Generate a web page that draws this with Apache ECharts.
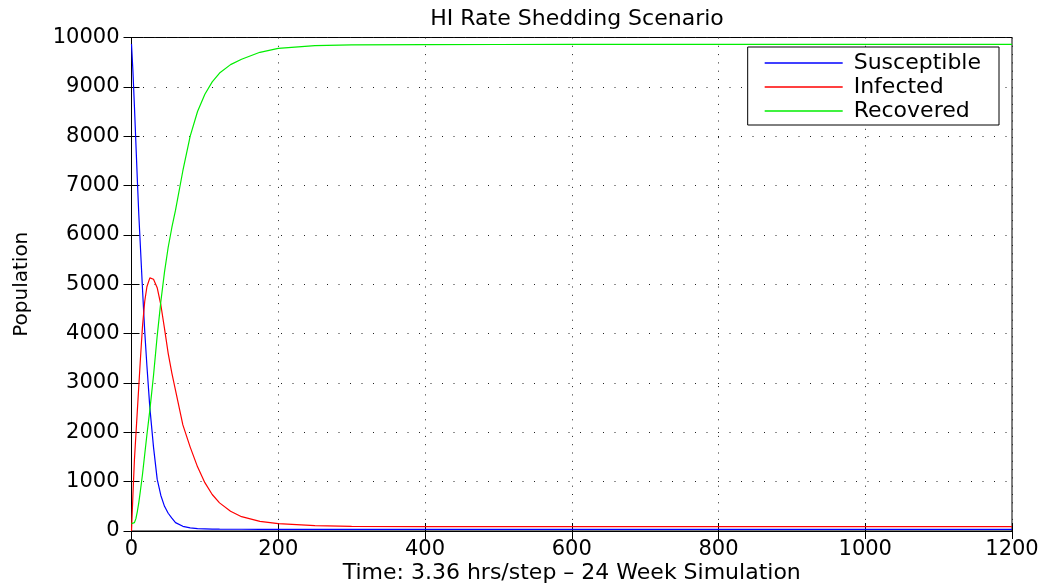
<!DOCTYPE html>
<html>
<head>
<meta charset="utf-8">
<script src="https://cdn.jsdelivr.net/npm/echarts@6/dist/echarts.min.js"></script>
<style>html,body{margin:0;padding:0;background:#fff}#c{width:1046px;height:584px}</style>
</head>
<body>
<div id="c"></div>
<script>
var steps = [0,2,4,6,8,10,12,15,18,21,25,30,35,40,45,50,55,60,70,80,90,100,110,120,135,150,175,200,250,300,400,500,600,800,1000,1200];
var susceptible = [9870,9300,8600,7850,7100,6400,5800,4900,4050,3350,2500,1700,1050,720,500,360,260,170,95,65,50,45,40,37,35,35,34,34,34,34,34,34,34,34,34,34];
var infected = [0,750,1450,1950,2450,2950,3450,4150,4650,4950,5130,5100,4930,4580,4100,3600,3200,2850,2150,1700,1300,980,740,570,400,290,195,150,110,95,89,88,87,87,87,87];
var recovered = [150,150,170,250,400,580,800,1150,1550,1950,2450,3150,3950,4650,5250,5750,6150,6500,7300,8000,8500,8850,9100,9280,9450,9560,9700,9780,9835,9850,9855,9858,9860,9860,9860,9860];
var seriesNames = ['Susceptible','Infected','Recovered'];
var xTicks = [0,200,400,600,800,1000,1200];
var yTicks = [0,1000,2000,3000,4000,5000,6000,7000,8000,9000,10000];

function pairs(ys){ return steps.map(function(x,i){ return [x, ys[i]]; }); }

var font = 'DejaVu Sans';
var chart = echarts.init(document.getElementById('c'), null, {renderer:'canvas'});
var gridLineH = {show:true, lineStyle:{color:'#222', width:1, type:[1,10.5]}};
var gridLineV = {show:true, lineStyle:{color:'#222', width:1, type:[1,7.3]}};
chart.setOption({
  animation:false,
  backgroundColor:'#fff',
  title:{text:'HI Rate Shedding Scenario', left:572, top:3, textAlign:'center',
    textStyle:{fontFamily:font, fontSize:22, fontWeight:'normal', color:'#000'}},
  grid:{left:131.5, right:34, top:37.5, bottom:53, containLabel:false, outerBoundsMode:'none',
    show:true, borderColor:'#000', borderWidth:1, backgroundColor:'transparent'},
  legend:{
    data:seriesNames, orient:'vertical', right:47, top:47,
    backgroundColor:'#fff', borderColor:'#000', borderWidth:1, borderRadius:0,
    padding:[5,18,3,17], itemGap:2, itemWidth:78, itemHeight:1.5, icon:'rect',
    textStyle:{fontFamily:font, fontSize:22, color:'#000', lineHeight:22, padding:[0,0,0,6]}
  },
  xAxis:[{
    type:'value', min:0, max:1200, interval:200,
    name:'Time: 3.36 hrs/step \u2013 24 Week Simulation', nameLocation:'middle', nameGap:31,
    nameMoveOverlap:false,
    nameTextStyle:{fontFamily:font, fontSize:22, color:'#000'},
    axisLine:{show:true, lineStyle:{color:'#000', width:1}},
    axisTick:{show:true, inside:true, length:8, lineStyle:{color:'#000'}},
    axisLabel:{fontFamily:font, fontSize:21, color:'#000', margin:8,
      formatter:function(v){ return xTicks.indexOf(v) >= 0 ? String(v) : ''; }},
    splitLine:gridLineV
  },{
    type:'value', min:0, max:1200, interval:200, position:'top',
    axisLine:{show:true, lineStyle:{color:'#000', width:1}},
    axisTick:{show:true, inside:true, length:8, lineStyle:{color:'#000'}},
    axisLabel:{show:false}, splitLine:{show:false}
  }],
  yAxis:[{
    type:'value', min:0, max:10000, interval:1000,
    name:'Population', nameLocation:'middle', nameGap:100, nameRotate:90,
    nameMoveOverlap:false,
    nameTextStyle:{fontFamily:font, fontSize:20, color:'#000'},
    axisLine:{show:true, lineStyle:{color:'#000', width:1}},
    axisTick:{show:true, inside:true, length:8, lineStyle:{color:'#000'}},
    axisLabel:{fontFamily:font, fontSize:21, color:'#000', margin:12,
      formatter:function(v){ return yTicks.indexOf(v) >= 0 ? String(v) : ''; }},
    splitLine:gridLineH
  },{
    type:'value', min:0, max:10000, interval:1000, position:'right',
    axisLine:{show:true, lineStyle:{color:'#000', width:1}},
    axisTick:{show:true, inside:true, length:8, lineStyle:{color:'#000'}},
    axisLabel:{show:false}, splitLine:{show:false}
  }],
  series:[
    {name:seriesNames[0], type:'line', data:pairs(susceptible), symbol:'none', smooth:false,
      color:'#0000ff', lineStyle:{color:'#0000ff', width:1.2}, xAxisIndex:0, yAxisIndex:0},
    {name:seriesNames[1], type:'line', data:pairs(infected), symbol:'none', smooth:false,
      color:'#ff0000', lineStyle:{color:'#ff0000', width:1.2}, xAxisIndex:0, yAxisIndex:0},
    {name:seriesNames[2], type:'line', data:pairs(recovered), symbol:'none', smooth:false,
      color:'#00ee00', lineStyle:{color:'#00ee00', width:1.2}, xAxisIndex:0, yAxisIndex:0},
    {name:'frame', type:'line', data:[], xAxisIndex:1, yAxisIndex:1, silent:true}
  ]
});
</script>
</body>
</html>
